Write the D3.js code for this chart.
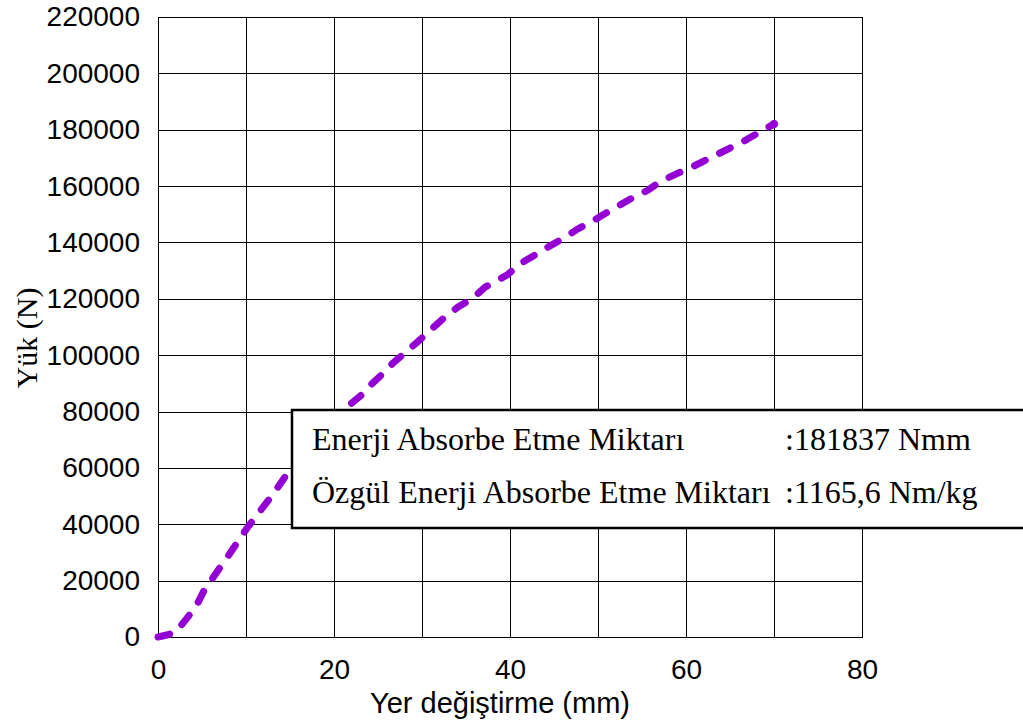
<!DOCTYPE html>
<html>
<head>
<meta charset="utf-8">
<script src="https://cdn.jsdelivr.net/npm/d3@7"></script>
<style>
  body { margin: 0; background: #fff; }
  .grid line { stroke: #000; stroke-width: 1; shape-rendering: crispEdges; }
  .grid path { display: none; }
  .axis text { font-family: "Liberation Sans", Arial, sans-serif; font-size: 28px; fill: #000; }
</style>
</head>
<body>
<div id="graph"></div>
<script>
// displacement (mm) and load (N)
var dispX = [0, 1, 2, 3.3, 4.4, 5.2, 6.3, 8.2, 10.2, 13, 15, 21.3, 23, 24.3, 25.5, 26.7, 28.3, 29.5, 31.1, 32.6,
    34.1, 35.8, 37.2, 39.7, 41.1, 42.8, 44.5, 46.3, 47.7, 49.4, 51.1, 53.9, 55.7, 57, 59.1, 60.7, 65, 66.4, 68.4, 70]
var load = [0, 700, 1700, 6700, 11300, 16300, 21300, 29800, 39000, 50400, 59300, 81200, 85500, 89800, 93300, 97200,
    101500, 104700, 109300, 113500, 117100, 120300, 124200, 128500, 132300, 135500, 138700, 141900, 144800, 147600,
    150800, 155800, 158600, 161500, 164600, 166800, 173500, 175600, 179200, 182000]

var xTicks = [0, 20, 40, 60, 80]
var xGrid = [0, 10, 20, 30, 40, 50, 60, 70, 80]
var yTicks = [0, 20000, 40000, 60000, 80000, 100000, 120000, 140000, 160000, 180000, 200000, 220000]

var infoLabels = ["Enerji Absorbe Etme Miktarı", "Özgül Enerji Absorbe Etme Miktarı"]
var infoValues = [":181837 Nmm", ":1165,6 Nm/kg"]

var W = 1023, H = 724
var margin = {top: 17, right: 161, bottom: 87, left: 158},
    width = W - margin.left - margin.right,
    height = H - margin.top - margin.bottom;

var svg = d3.select("#graph").append("svg")
    .attr("width", W)
    .attr("height", H)

var g = svg.append("g")
    .attr("transform", "translate(" + margin.left + "," + margin.top + ")")

var x = d3.scaleLinear().domain([0, 80]).range([0, width])
var y = d3.scaleLinear().domain([0, 220000]).range([height, 0])

// grid
g.append("g")
    .attr("class", "grid")
    .attr("transform", "translate(0," + height + ")")
    .call(d3.axisBottom(x).tickValues(xGrid).tickSize(-height).tickFormat(""))

g.append("g")
    .attr("class", "grid")
    .call(d3.axisLeft(y).tickValues(yTicks).tickSize(-width).tickFormat(""))

g.append("rect")
    .attr("width", width)
    .attr("height", height)
    .attr("fill", "none")
    .attr("stroke", "#000")
    .attr("shape-rendering", "crispEdges")

// tick labels
var xAxis = g.append("g")
    .attr("class", "axis")
    .attr("transform", "translate(0," + height + ")")
    .call(d3.axisBottom(x).tickValues(xTicks).tickSize(0).tickPadding(22).tickFormat(d3.format("d")))
xAxis.select(".domain").remove()

var yAxis = g.append("g")
    .attr("class", "axis")
    .call(d3.axisLeft(y).tickValues(yTicks).tickSize(0).tickPadding(18).tickFormat(d3.format("d")))
yAxis.select(".domain").remove()

// axis titles
svg.append("text")
    .attr("x", 500)
    .attr("y", 713)
    .attr("text-anchor", "middle")
    .style("font-family", "Liberation Sans, Arial, sans-serif")
    .style("font-size", "29px")
    .text("Yer değiştirme (mm)")

svg.append("text")
    .attr("transform", "translate(37,338) rotate(-90)")
    .attr("text-anchor", "middle")
    .style("font-family", "Liberation Serif, Times New Roman, serif")
    .style("font-size", "30px")
    .text("Yük (N)")

// curve
var pts = dispX.map(function(d, i) { return {x: d, y: load[i]} })

var line = d3.line()
    .x(function(d) { return x(d.x) })
    .y(function(d) { return y(d.y) })

g.append("path")
    .datum(pts)
    .attr("fill", "none")
    .attr("stroke", "#9400D3")
    .attr("stroke-width", 7)
    .attr("stroke-linecap", "round")
    .attr("stroke-dasharray", "12,16")
    .attr("d", line)

var last = pts[pts.length - 1]
g.append("circle")
    .attr("cx", x(last.x))
    .attr("cy", y(last.y))
    .attr("r", 4)
    .attr("fill", "#9400D3")

// info box
var box = svg.append("g")
box.append("rect")
    .attr("x", 292)
    .attr("y", 410)
    .attr("width", 800)
    .attr("height", 118)
    .attr("fill", "#fff")
    .attr("stroke", "#000")
    .attr("stroke-width", 2.5)

box.selectAll(".lbl")
    .data(infoLabels)
    .enter().append("text")
    .attr("x", 312)
    .attr("y", function(d, i) { return 450 + i * 53 })
    .style("font-family", "Liberation Serif, Times New Roman, serif")
    .style("font-size", "32px")
    .text(function(d) { return d })

box.selectAll(".val")
    .data(infoValues)
    .enter().append("text")
    .attr("x", 785)
    .attr("y", function(d, i) { return 450 + i * 53 })
    .style("font-family", "Liberation Serif, Times New Roman, serif")
    .style("font-size", "32px")
    .text(function(d) { return d })
</script>
</body>
</html>
